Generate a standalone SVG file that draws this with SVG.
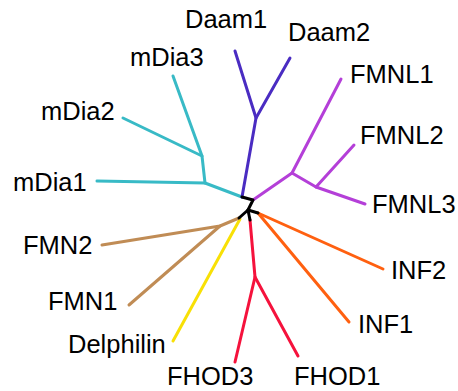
<svg xmlns="http://www.w3.org/2000/svg" width="458" height="391" viewBox="0 0 458 391">
<style>
.e{fill:none;stroke-width:3;stroke-linecap:round;stroke-linejoin:round}
.k{stroke:#000}
.cy{stroke:#38bac6}
.bl{stroke:#4a2cc2}
.pu{stroke:#b43fd8}
.or{stroke:#ff6010}
.rd{stroke:#f5123c}
.ye{stroke:#f8e006}
.br{stroke:#c08c55}
text{font-family:"Liberation Sans",Arial,sans-serif;font-size:25.5px;fill:#000}
</style>
<rect width="458" height="391" fill="#fff"/>
<g id="connectors">
<polyline class="e cy" points="242,197 205,183 97,181"/>
<polyline class="e cy" points="205,183 202,156 123,118"/>
<polyline class="e cy" points="202,156 173,76"/>
<polyline class="e bl" points="242,197 256,118 235,51"/>
<polyline class="e bl" points="256,118 290,58"/>
<polyline class="e pu" points="253,200 292,173 341,79"/>
<polyline class="e pu" points="292,173 316,187 354,145"/>
<polyline class="e pu" points="316,187 365,204"/>
<polyline class="e or" points="258,213 383,269"/>
<polyline class="e or" points="258,213 349,322"/>
<polyline class="e rd" points="250,220 255,277 235,362"/>
<polyline class="e rd" points="255,277 298,356"/>
<polyline class="e ye" points="240,219 173,341"/>
<polyline class="e br" points="239,218 220,226 102,245"/>
<polyline class="e br" points="220,226 129,305"/>
<polyline class="e k" points="242,197 253,200 248,210 239,218"/>
<polyline class="e k" points="248,210 250,220"/>
<polyline class="e k" points="248,210 258,213"/>
</g>
<g id="Daam1"><text x="185" y="28">Daam1</text></g>
<g id="Daam2"><text x="288" y="41">Daam2</text></g>
<g id="mDia3"><text x="130" y="66">mDia3</text></g>
<g id="mDia2"><text x="41" y="120">mDia2</text></g>
<g id="mDia1"><text x="13" y="191">mDia1</text></g>
<g id="FMNL1"><text x="350" y="83">FMNL1</text></g>
<g id="FMNL2"><text x="360" y="144">FMNL2</text></g>
<g id="FMNL3"><text x="372" y="213">FMNL3</text></g>
<g id="FMN2"><text x="23" y="254">FMN2</text></g>
<g id="FMN1"><text x="48" y="310">FMN1</text></g>
<g id="Delphilin"><text x="68" y="353">Delphilin</text></g>
<g id="FHOD3"><text x="167" y="385">FHOD3</text></g>
<g id="FHOD1"><text x="294" y="385">FHOD1</text></g>
<g id="INF2"><text x="391" y="279">INF2</text></g>
<g id="INF1"><text x="358" y="333">INF1</text></g>
</svg>
